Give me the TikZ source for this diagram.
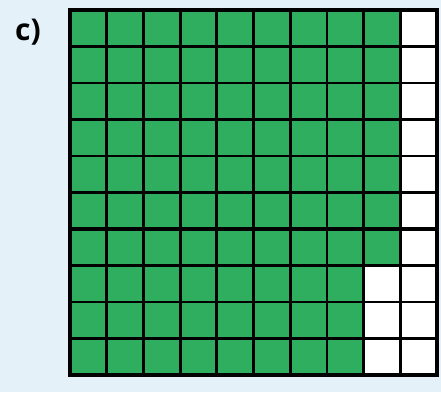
\documentclass[tikz,border=0pt]{standalone}
\usepackage{fontspec}
\setmainfont{Open Sans}
\definecolor{bgblue}{RGB}{228,241,249}
\definecolor{cellgreen}{RGB}{46,174,94}
\tikzset{
  greencell/.style={fill=cellgreen,draw=none},
  whitecell/.style={fill=white,draw=none},
  gridline/.style={line width=2.8pt,black},
  midline/.style={line width=3.6pt,black},
  frame/.style={line width=4.4pt,black},
  lbl/.style={font=\bfseries\fontsize{30}{30}\selectfont,inner sep=0pt}
}
\begin{document}
\begin{tikzpicture}[x=1pt,y=-1pt]
\useasboundingbox (0,0) rectangle (441,392);
\fill[bgblue] (0,0) rectangle (441,392);
\def\gx{70}\def\gy{10}\def\cw{36.7}\def\ch{36.5}
% cells
\foreach \i in {0,...,9}{
  \foreach \j in {0,...,9}{
    \pgfmathsetmacro{\xa}{\gx+\i*\cw}
    \pgfmathsetmacro{\ya}{\gy+\j*\ch}
    \pgfmathtruncatemacro{\white}{(\i==9) || (\i==8 && \j>=7) ? 1 : 0}
    \ifnum\white=1
      \fill[whitecell] (\xa,\ya) rectangle ++(\cw,\ch);
    \else
      \fill[greencell] (\xa,\ya) rectangle ++(\cw,\ch);
    \fi
  }
}
% grid lines
\foreach \k in {1,...,9}{
  \pgfmathsetmacro{\xa}{\gx+\k*\cw}
  \pgfmathsetmacro{\ya}{\gy+\k*\ch}
  \draw[gridline] (\xa,\gy) -- (\xa,\gy+10*\ch);
  \draw[gridline] (\gx,\ya) -- (\gx+10*\cw,\ya);
}
\draw[midline] (\gx+5*\cw,\gy) -- (\gx+5*\cw,\gy+10*\ch);
\draw[midline] (\gx,\gy+6*\ch) -- (\gx+10*\cw,\gy+6*\ch);
\draw[frame] (\gx,\gy) rectangle (\gx+10*\cw,\gy+10*\ch);
\node[lbl] (label) at (28,32) {c)};
\end{tikzpicture}
\end{document}
